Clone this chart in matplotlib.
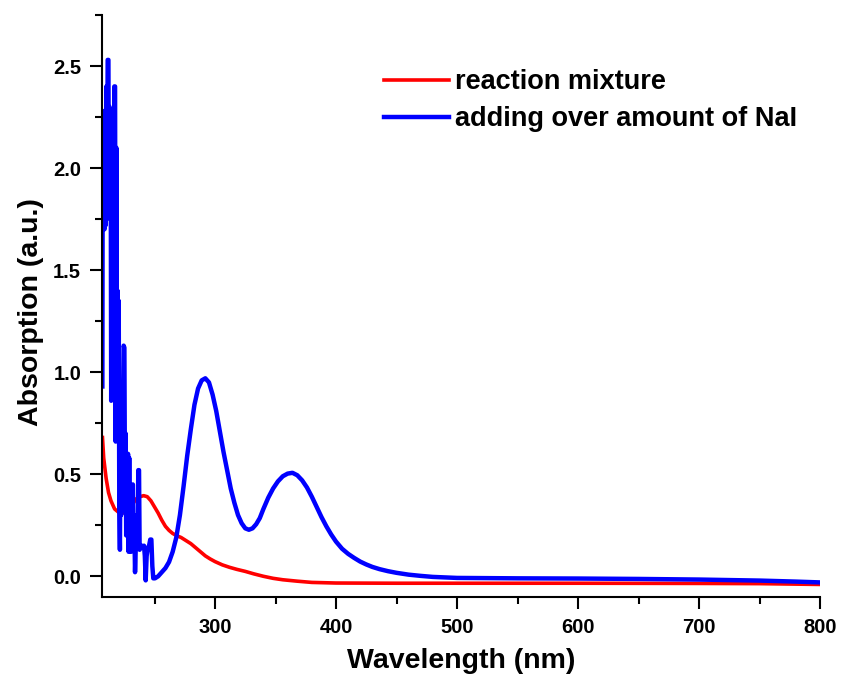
import matplotlib
matplotlib.use("Agg")
import matplotlib.pyplot as plt
from matplotlib.ticker import MultipleLocator

# ---- data ----
red_wl = [207, 208, 210, 212, 214, 217, 220, 223, 226, 229, 232, 235, 238, 241, 244,
          247, 250, 253, 256, 259, 262, 265, 268, 272, 276, 280, 284, 288, 292, 296,
          300, 306, 312, 318, 325, 332, 340, 348, 356, 368, 380, 400, 450, 500, 600,
          700, 750, 800]
red_abs = [0.68, 0.58, 0.48, 0.41, 0.37, 0.33, 0.315, 0.31, 0.315, 0.33, 0.355, 0.38,
           0.39, 0.395, 0.39, 0.37, 0.34, 0.31, 0.275, 0.245, 0.225, 0.21, 0.20, 0.19,
           0.175, 0.16, 0.14, 0.12, 0.10, 0.085, 0.072, 0.056, 0.044, 0.034, 0.024,
           0.012, 0.0, -0.01, -0.017, -0.024, -0.03, -0.033, -0.034, -0.034, -0.034,
           -0.035, -0.036, -0.04]

blue_wl = [206.9, 207.2, 207.6, 208.1, 208.6, 209.1, 209.6, 210.2, 210.7, 211.3, 211.9,
           212.3, 212.8, 213.3, 213.8, 214.2, 214.7, 215.2, 215.7, 216.2, 216.8, 217.4,
           217.9, 218.4, 218.9, 219.4, 219.9, 220.4, 220.9, 221.4, 221.9, 222.4, 222.9,
           223.4, 224.0, 224.5, 225.1, 225.6, 226.1, 226.6, 227.1, 227.6, 228.1, 228.6,
           229.1, 229.6, 230.1, 230.6, 231.1, 231.6, 232.1, 232.6, 233.2, 233.9, 234.5,
           235.2, 236.0, 236.6, 237.2, 237.7, 238.5, 239.5, 240.5, 241.3, 242.0, 242.7,
           243.5, 244.5, 245.5, 246.5, 247.4, 248.2, 249.0, 250.4,
           253, 256, 259, 262, 265, 268, 271, 274, 277, 280, 283, 286, 289, 292, 295,
           298, 301, 304, 307, 310, 313, 316, 319, 322, 325, 328, 331, 334, 337, 340,
           344, 348, 352, 356, 360, 364, 368, 372, 376, 380, 384, 388, 392, 396, 400,
           405, 410, 415, 420, 425, 430, 436, 443, 450, 460, 470, 480, 500, 550, 600,
           650, 700, 750, 780, 800]
blue_abs = [0.93, 2.28, 1.72, 2.12, 1.70, 2.25, 1.72, 2.40, 1.85, 2.53, 2.53,
            1.80, 2.30, 1.75, 2.10, 0.86, 1.80, 0.90, 1.70, 1.35, 2.40, 2.40,
            0.66, 2.10, 0.95, 1.40, 0.75, 1.35, 0.35, 0.13, 0.70, 0.30, 0.55,
            0.32, 0.80, 1.13, 1.12, 0.40, 0.70, 0.20, 0.60, 0.25, 0.60, 0.12,
            0.58, 0.15, 0.40, 0.12, 0.30, 0.14, 0.45, 0.15, 0.30, 0.02, 0.14,
            0.15, 0.14, 0.52, 0.52, 0.13, 0.14, 0.15, 0.14, 0.15, 0.10, -0.02,
            0.10, 0.14, 0.15, 0.18, 0.18, 0.05, -0.01, -0.01,
            0.00, 0.02, 0.04, 0.07, 0.12, 0.19, 0.30, 0.44, 0.59, 0.72, 0.84, 0.92, 0.96,
            0.97, 0.95, 0.89, 0.81, 0.71, 0.61, 0.52, 0.43, 0.36, 0.30, 0.26, 0.235,
            0.228, 0.235, 0.255, 0.285, 0.33, 0.385, 0.43, 0.465, 0.49, 0.503, 0.507,
            0.495, 0.47, 0.435, 0.39, 0.34, 0.29, 0.245, 0.205, 0.17, 0.135, 0.11,
            0.09, 0.072, 0.058, 0.046, 0.035, 0.025, 0.017, 0.008, 0.002, -0.003,
            -0.008, -0.01, -0.011, -0.013, -0.016, -0.021, -0.026, -0.03]

series_labels = ["reaction mixture", "adding over amount of NaI"]
x_ticks = [300, 400, 500, 600, 700, 800]
y_ticks = [0.0, 0.5, 1.0, 1.5, 2.0, 2.5]

# ---- figure ----
plt.rcParams['font.family'] = ['Liberation Sans', 'DejaVu Sans']
plt.rcParams['font.weight'] = 'bold'

fig = plt.figure(figsize=(8.41, 6.76), dpi=100)
ax = fig.add_axes([102/841, 1 - 596.7/676, (820 - 102)/841, (596.7 - 15)/676])

ax.plot(red_wl, red_abs, color='#ff0000', lw=2.6, label=series_labels[0], solid_joinstyle='round')
ax.plot(blue_wl, blue_abs, color='#0000ff', lw=3.2, label=series_labels[1], solid_joinstyle='round')

ax.set_xlim(206.6, 800)
ax.set_ylim(-0.1, 2.75)
ax.set_xticks(x_ticks)
ax.set_yticks(y_ticks)
ax.set_yticklabels([f"{v:.1f}" for v in y_ticks])
ax.xaxis.set_minor_locator(MultipleLocator(50))
ax.yaxis.set_minor_locator(MultipleLocator(0.25))

for s in ['top', 'right']:
    ax.spines[s].set_visible(False)
for s in ['left', 'bottom']:
    ax.spines[s].set_linewidth(1.5)

ax.tick_params(which='major', direction='out', length=8.5, width=1.5, labelsize=14.5, pad=6.5)
ax.tick_params(which='minor', direction='out', length=5, width=1.5)
for lab in ax.get_xticklabels() + ax.get_yticklabels():
    lab.set_fontweight('bold')

ax.set_xlabel("Wavelength (nm)", fontsize=20.5, fontweight='bold')
ax.set_ylabel("Absorption (a.u.)", fontsize=20.5, fontweight='bold')
ax.xaxis.set_label_coords(0.5, (596.7 - 648) / 581.7)
ax.yaxis.set_label_coords((44 - 102) / 718, 0.49)

leg = ax.legend(loc='upper left', bbox_to_anchor=((384 - 102)/718, (596.7 - 69)/581.7),
                frameon=False, fontsize=19.5, handlelength=2.4, handletextpad=0.22,
                labelspacing=0.42, borderpad=0, borderaxespad=0)
for t in leg.get_texts():
    t.set_fontweight('bold')

fig.savefig("out.png", dpi=100, facecolor='white')
